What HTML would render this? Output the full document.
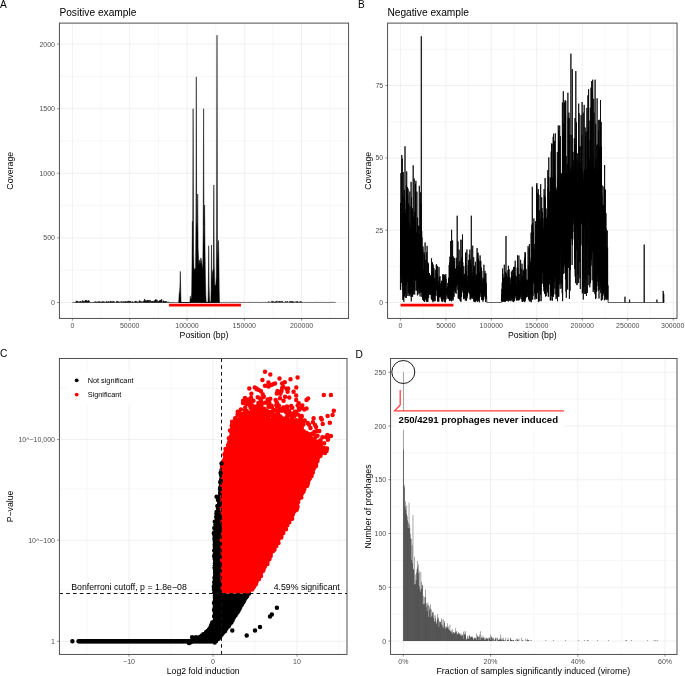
<!DOCTYPE html>
<html><head><meta charset="utf-8"><title>Figure</title>
<style>html,body{margin:0;padding:0;background:#fff}svg{display:block}</style></head>
<body>
<svg width="685" height="676" viewBox="0 0 685 676" font-family="'Liberation Sans', Arial, Helvetica, sans-serif" fill="#000">
<rect width="685" height="676" fill="#fff"/>
<g stroke="#ebebeb" fill="none">
<path stroke-width="0.4" d="M101.1 23.1V318.4M158.4 23.1V318.4M215.7 23.1V318.4M273 23.1V318.4M330.2 23.1V318.4M59.4 270.2H348.6M59.4 205.6H348.6M59.4 141H348.6M59.4 76.4H348.6"/>
<path stroke-width="0.75" d="M72.4 23.1V318.4M129.7 23.1V318.4M187 23.1V318.4M244.3 23.1V318.4M301.6 23.1V318.4M59.4 302.5H348.6M59.4 237.9H348.6M59.4 173.3H348.6M59.4 108.7H348.6M59.4 44.1H348.6"/>
</g>
<path d="M178.7 302.5L178.7 302.5L179.2 293.5L179.6 291.5L179.9 287L180.3 271.4L180.7 289.6L181 301.2L181.4 302.5L189.9 302.5L190.3 296.3L190.8 299.9L191.3 298.6L191.7 292.2L192 263.7L192.4 221.1L192.7 250.8L193.1 108.7L193.5 248.2L193.9 267.6L194.4 269.6L195 268.9L195.6 267.6L195.9 225L196.3 76.8L196.7 222.4L197.2 230.1L197.7 194L198.1 248.2L198.6 259.9L199 265L199.6 259.9L200.2 263.7L200.8 257.9L201.3 259.9L201.9 263.7L202.4 270.2L202.8 263.7L203.2 230.1L203.6 108.7L204 225L204.6 205L205 248.2L205.4 276.7L205.8 294.7L206.2 301.9L207 302.5L208 302.1L208.3 289.6L208.7 245.7L209.1 287L209.5 299.9L209.9 302.2L210.8 302.5L211.1 289.6L211.5 245L211.9 283.1L212.4 272.8L212.9 270.2L213.4 268.9L213.8 184.9L214.2 263.7L214.7 284.4L215.2 285.7L215.8 284.4L216.3 276.7L216.6 237.9L217 35.1L217.4 237.9L217.8 259.9L218.2 250.8L218.5 240.5L218.9 263.7L219.2 289.6L219.5 302.5Z" fill="#000" stroke="#000" stroke-width="0.5" stroke-linejoin="miter" stroke-miterlimit="30"/>
<path d="M72.4 302.5L72.7 302.5L72.9 302.5L73.2 302.4L73.4 302.5L73.7 302.4L73.9 302.5L74.2 302.2L74.4 302.5L74.7 302.3L74.9 302.5L75.2 302.1L75.4 302.5L75.7 302.5L75.9 302.5L76.2 301.3L76.4 302.5L76.7 300.8L76.9 302.5L77.2 301.2L77.4 302.5L77.7 301.1L77.9 302.5L78.2 302.2L78.4 302.5L78.7 301.9L78.9 302.5L79.2 301.6L79.4 302.5L79.7 302.4L79.9 302.5L80.2 301.2L80.4 302.5L80.7 301.5L80.9 302.5L81.2 301.3L81.4 302.5L81.7 302.3L81.9 302.5L82.2 302L82.4 302.5L82.7 300.3L82.9 302.5L83.2 301.2L83.4 302.5L83.7 301.6L83.9 302.5L84.2 301.3L84.4 302.5L84.7 302.4L84.9 302.5L85.2 300.4L85.4 302.5L85.7 300.2L85.9 302.5L86.2 301.9L86.4 302.5L86.7 300.1L86.9 302.5L87.2 300.9L87.4 302.5L87.7 301.4L87.9 302.5L88.2 301.3L88.4 302.5L88.7 300.1L88.9 302.5L89.2 301L89.4 302.5L89.7 302.3L89.9 302.5L90.2 302.5L90.4 302.5L90.7 302L90.9 302.5L91.2 302.3L91.4 302.5L91.7 302.4L91.9 302.5L92.2 302.2L92.4 302.5L92.7 302.1L92.9 302.5L93.2 302L93.4 302.5L93.7 302.2L93.9 302.5L94.2 302.2L94.4 302.5L94.7 301.7L94.9 302.5L95.2 302.3L95.4 302.5L95.7 301.4L95.9 302.5L96.2 302L96.4 302.5L96.7 302.1L96.9 302.5L97.2 301.7L97.4 302.5L97.7 301.8L97.9 302.5L98.2 302.2L98.4 302.5L98.7 301.7L98.9 302.5L99.2 301.3L99.4 302.5L99.7 301.9L99.9 302.5L100.2 302L100.4 302.5L100.7 301.7L100.9 302.5L101.2 302L101.4 302.5L101.7 301.9L101.9 302.5L102.2 301.5L102.4 302.5L102.7 301.7L102.9 302.5L103.2 301.6L103.4 302.5L103.7 301.8L103.9 302.5L104.2 302L104.4 302.5L104.7 301.7L104.9 302.5L105.2 302.2L105.4 302.5L105.7 302.1L105.9 302.5L106.2 301.6L106.4 302.5L106.7 301.3L106.9 302.5L107.2 302L107.4 302.5L107.7 301.9L107.9 302.5L108.2 301.5L108.4 302.5L108.7 301.6L108.9 302.5L109.2 301.7L109.4 302.5L109.7 302.2L109.9 302.5L110.2 301.7L110.4 302.5L110.7 300.9L110.9 302.5L111.2 301.6L111.4 302.5L111.7 302.1L111.9 302.5L112.2 301.2L112.4 302.5L112.7 301.9L112.9 302.5L113.2 302.1L113.4 302.5L113.7 301L113.9 302.5L114.2 301.6L114.4 302.5L114.7 302.5L114.9 302.5L115.2 302.3L115.4 302.5L115.7 302.3L115.9 302.5L116.2 302.1L116.4 302.5L116.7 300.9L116.9 302.5L117.2 302.1L117.4 302.5L117.7 301.3L117.9 302.5L118.2 301.7L118.4 302.5L118.7 301.7L118.9 302.5L119.2 301.8L119.4 302.5L119.7 302.5L119.9 302.5L120.2 302.2L120.4 302.5L120.7 302.3L120.9 302.5L121.2 301L121.4 302.5L121.7 301.8L121.9 302.5L122.2 302.3L122.4 302.5L122.7 301.6L122.9 302.5L123.2 302.1L123.4 302.5L123.7 301.5L123.9 302.5L124.2 301.7L124.4 302.5L124.7 302L124.9 302.5L125.2 301.2L125.4 302.5L125.7 301.8L125.9 302.5L126.2 301.4L126.4 302.5L126.7 302L126.9 302.5L127.2 301.7L127.4 302.5L127.7 301.5L127.9 302.5L128.2 300.8L128.4 302.5L128.7 301.7L128.9 302.5L129.2 301L129.4 302.5L129.7 301.7L129.9 302.5L130.2 301.7L130.4 302.5L130.7 301.2L130.9 302.5L131.2 302.2L131.4 302.5L131.7 302.4L131.9 302.5L132.2 301.6L132.4 302.5L132.7 301.7L132.9 302.5L133.2 301.9L133.4 302.5L133.7 302.2L133.9 302.5L134.2 302.1L134.4 302.5L134.7 301.7L134.9 302.5L135.2 301.6L135.4 302.5L135.7 300.9L135.9 302.5L136.2 301.1L136.4 302.5L136.7 302.1L136.9 302.5L137.2 301.8L137.4 302.5L137.7 301.9L137.9 302.5L138.2 302.2L138.4 302.5L138.7 301.7L138.9 302.5L139.2 301.6L139.4 302.5L139.7 300.4L139.9 302.5L140.2 301.2L140.4 302.5L140.7 302.3L140.9 302.5L141.2 301.2L141.4 302.5L141.7 302L141.9 302.5L142.2 302.1L142.4 302.5L142.7 301.5L142.9 302.5L143.2 302.3L143.4 302.5L143.7 300.8L143.9 302.5L144.2 301.1L144.4 302.5L144.7 298.9L144.9 302.5L145.2 300.6L145.4 302.5L145.7 300.4L145.9 302.5L146.2 301.9L146.4 302.5L146.7 300.5L146.9 302.5L147.2 301.1L147.4 302.5L147.7 299.9L147.9 302.5L148.2 300.1L148.4 302.5L148.7 301.5L148.9 302.5L149.2 300.2L149.4 302.5L149.7 301.7L149.9 302.5L150.2 300L150.4 302.5L150.7 302.1L150.9 302.5L151.2 301.3L151.4 302.5L151.7 301.4L151.9 302.5L152.2 301.6L152.4 302.5L152.7 301.1L152.9 302.5L153.2 301.5L153.4 302.5L153.7 301.9L153.9 302.5L154.2 300.4L154.4 302.5L154.7 301.4L154.9 302.5L155.2 300.2L155.4 302.5L155.7 299.4L155.9 302.5L156.2 299.6L156.4 302.5L156.7 301.9L156.9 302.5L157.2 299.9L157.4 302.5L157.7 301.8L157.9 302.5L158.2 301.3L158.4 302.5L158.7 301.5L158.9 302.5L159.2 301L159.4 302.5L159.7 300.4L159.9 302.5L160.2 300.4L160.4 302.5L160.7 299.9L160.9 302.5L161.2 301.6L161.4 302.5L161.7 299.1L161.9 302.5L162.2 302.1L162.4 302.5L162.7 301.9L162.9 302.5L163.2 300.7L163.4 302.5L163.7 300.9L163.9 302.5L164.2 301.6L164.4 302.5L164.7 301.6L164.9 302.5L165.2 301.1L165.4 302.5L165.7 301.6L165.9 302.5L166.2 301.5L166.4 302.5L166.7 301.6L166.9 302.5L167.2 301.9L167.4 302.5L167.7 302.2L167.9 302.5L168.2 302.3L168.4 302.5L168.7 301.8L168.9 302.5L169.2 302.3L169.4 302.5L169.7 302.4L169.9 302.5L170.2 302.2L170.4 302.5L170.7 302.5L170.9 302.5L171.2 302.3L171.4 302.5L171.7 302.1L171.9 302.5L172.2 302.2L172.4 302.5L172.7 302.2L172.9 302.5L173.2 302.2L173.4 302.5L173.7 302.4L173.9 302.5L174.2 302.4L174.4 302.5L174.7 302.4L174.9 302.5L175.2 302.2L175.4 302.5L175.7 302.3L175.9 302.5L176.2 302.5L176.4 302.5L176.7 302.2L176.9 302.5L177.2 302.4L177.4 302.5L177.7 302.3L177.9 302.5L178.2 302.4L178.7 302.5L219.5 302.5L219.6 302.4L219.8 302.4L220.1 302.5L220.3 302.4L220.6 302.5L220.8 302.4L221.1 302.5L221.3 302.5L221.6 302.4L221.8 302.4L222.1 302.5L222.3 302.3L222.6 302.4L222.8 302.4L223.1 302.3L223.3 302.5L223.6 302.4L223.8 302.3L224.1 302.4L224.3 302.4L224.6 302.4L224.8 302.5L225.1 302.4L225.3 302.4L225.6 302.4L225.8 302.4L226.1 302.4L226.3 302.4L226.6 302.3L226.8 302.3L227.1 302.3L227.3 302.5L227.6 302.5L227.8 302.5L228.1 302.5L228.3 302.5L228.6 302.3L228.8 302.4L229.1 302.3L229.3 302.4L229.6 302.3L229.8 302.4L230.1 302.4L230.3 302.4L230.6 302.3L230.8 302.5L231.1 302.3L231.3 302.1L231.6 302.4L231.8 302.4L232.1 302.4L232.3 302.4L232.6 302.5L232.8 302.3L233.1 302.4L233.3 302.3L233.6 302.4L233.8 302.4L234.1 302.4L234.3 302.3L234.6 302.4L234.8 302.5L235.1 302.5L235.3 302.5L235.6 302.4L235.8 302.5L236.1 302.5L236.3 302.3L236.6 302.3L236.8 302.5L237.1 302.4L237.3 302.5L237.6 302.4L237.8 302.4L238.1 302.5L238.3 302.4L238.6 302.4L238.8 302.5L239.1 302.5L239.3 302.5L239.6 302.4L239.8 302.4L240.1 302.5L240.3 302.4L240.6 302.5L240.8 302.5L241.1 302.3L241.3 302.5L241.6 302.3L241.8 302.4L242.1 302.5L242.3 302.2L242.6 302.5L242.8 302.5L243.1 302.5L243.3 302.4L243.6 302.5L243.8 302.4L244.1 302.5L244.3 302.4L244.6 302.5L244.8 302.3L245.1 302.5L245.3 302.5L245.6 302.5L245.8 302.4L246.1 302.4L246.3 302.3L246.6 302.4L246.8 302.5L247.1 302.5L247.3 302.5L247.6 302.4L247.8 302.5L248.1 302.4L248.3 302.4L248.6 302.5L248.8 302.3L249.1 302.4L249.3 302.3L249.6 302.4L249.8 302.5L250.1 302.3L250.3 302.4L250.6 302.5L250.8 302.2L251.1 302.5L251.3 302.3L251.6 302.3L251.8 302.4L252.1 302.3L252.3 302.5L252.6 302.5L252.8 302.3L253.1 302.3L253.3 302.5L253.6 302.5L253.8 302.3L254.1 302.4L254.3 302.4L254.6 302.4L254.8 302.5L255.1 302.4L255.3 302.4L255.6 302.5L255.8 302.4L256.1 302.4L256.4 302.4L256.6 302.4L256.9 302.5L257.1 302.5L257.4 302.4L257.6 302.3L257.9 302.4L258.1 302.5L258.4 302.5L258.6 302.3L258.9 302.5L259.1 302.4L259.4 302.4L259.6 302.2L259.9 302.5L260.1 302.4L260.4 302.5L260.6 302.4L260.9 302.5L261.1 302.4L261.4 302.1L261.6 302.5L261.9 302.4L262.1 302.4L262.4 302.3L262.6 302.4L262.9 302.5L263.1 302.5L263.4 302.4L263.6 302.4L263.9 302.5L264.1 302.4L264.4 302.2L264.6 302.5L264.9 302.5L265.1 302.5L265.4 302.3L265.6 302.5L265.9 302.3L266.1 302.4L266.4 302.5L266.6 302.5L266.9 302.4L267.1 302.4L267.4 302.3L267.6 302.4L267.9 302.5L268.1 302.4L268.4 301.6L268.6 302.4L268.9 302.1L269.1 302.4L269.4 301.8L269.6 302.4L269.9 302.3L270.1 302.4L270.4 302.2L270.6 302.4L270.9 302.3L271.1 302.4L271.4 302.1L271.6 302.3L271.9 300.9L272.1 302.5L272.4 301.5L272.6 302.5L272.9 302.3L273.1 302.4L273.4 301.3L273.6 302.3L273.9 301.9L274.1 302.5L274.4 302.1L274.6 302.5L274.9 301.9L275.1 302.5L275.4 301.6L275.6 302.5L275.9 302.2L276.1 302.5L276.4 301.4L276.6 302.4L276.9 300.8L277.1 302.4L277.4 302L277.6 302.2L277.9 302.2L278.1 302.3L278.4 302L278.6 302.4L278.9 301.1L279.1 302.4L279.4 301.1L279.6 302.4L279.9 302.2L280.1 302.4L280.4 301.4L280.6 302.5L280.9 302.2L281.1 302.4L281.4 301L281.6 302.3L281.9 301.7L282.1 302.2L282.4 301.3L282.6 302.4L282.9 302L283.1 302.5L283.4 302L283.6 302.3L283.9 302.4L284.1 302.5L284.4 302.1L284.6 302.4L284.9 302.3L285.1 302.3L285.4 301.4L285.6 302.4L285.9 301.5L286.1 302.5L286.4 302.3L286.6 302.5L286.9 302.4L287.1 302.4L287.4 301L287.6 302.5L287.9 302.1L288.1 302.4L288.4 302.2L288.6 302.4L288.9 302.4L289.1 302.3L289.4 302.4L289.6 302.4L289.9 301L290.1 302.4L290.4 302L290.6 302.4L290.9 301.3L291.1 302.4L291.4 302L291.6 302.4L291.9 301L292.1 302.5L292.4 301.9L292.6 302.5L292.9 301.4L293.1 302.5L293.4 301.8L293.6 302.4L293.9 302.1L294.1 302.4L294.4 301.8L294.6 302.5L294.9 302.4L295.1 302.4L295.4 301.7L295.6 302.4L295.9 302.2L296.1 302.3L296.4 302.3L296.6 302.5L296.9 301.3L297.1 302.5L297.4 301.2L297.6 302.5L297.9 302L298.1 302.5L298.4 302.1L298.6 302.4L298.9 301.9L299.1 302.2L299.4 302.1L299.6 302.4L299.9 301.7L300.1 302.4L300.4 301.9L300.6 302.4L300.9 301.1L301.1 302.3L301.4 302.4L301.6 302.5L301.9 302L302.1 302.4L302.4 302.4L302.6 302.5L302.9 302.4L303.1 302.4L303.4 302.4L303.6 302.3L303.9 302.4L304.1 302.3L304.4 302.5L304.6 302.4L304.9 302.4L305.1 302.4L305.4 302.4L305.6 302.5L305.9 302.2L306.1 302.4L306.4 302.4L306.6 302.5L306.9 302.5L307.1 302.3L307.4 302.4L307.6 302.3L307.9 302.5L308.1 302.5L308.4 302.5L308.6 302.3L308.9 302.5L309.1 302.4L309.4 302.4L309.6 302.4L309.9 302.2L310.1 302.4L310.4 302.5L310.6 302.5L310.9 302.3L311.1 302.4L311.4 302.5L311.6 302.4L311.9 302.4L312.1 302.4L312.4 302.5L312.6 302.5L312.9 302.5L313.1 302.5L313.4 302.4L313.6 302.5L313.9 302.4L314.1 302.4L314.4 302.5L314.6 302.4L314.9 302.4L315.1 302.5L315.4 302.4L315.6 302.4L315.9 302.2L316.1 302.2L316.4 302.5L316.6 302.4L316.9 302.5L317.1 302.5L317.4 302.3L317.6 302.3L317.9 302.4L318.1 302.5L318.4 302.3L318.6 302.5L318.9 302.4L319.1 302.5L319.4 302.4L319.6 302.5L319.9 302.4L320.1 302.4L320.4 302.2L320.6 302.4L320.9 302.4L321.1 302.5L321.4 302.5L321.6 302.4L321.9 302.4L322.1 302.4L322.4 302.5L322.6 302.3L322.9 302.3L323.1 302.3L323.4 302.4L323.6 302.4L323.9 302.3L324.1 302.5L324.4 302.3L324.6 302.5L324.9 302.4L325.1 302.3L325.4 302.4L325.6 302.4L325.9 302.4L326.1 302.4L326.4 302.5L326.6 302.5L326.9 302.4L327.1 302.4L327.4 302.5L327.6 302.5L327.9 302.4L328.1 302.4L328.4 302.4L328.6 302.5L328.9 302.4L329.1 302.3L329.4 302.4L329.6 302.2L329.9 302.4L330.1 302.4L330.4 302.5L330.6 302.3L330.9 302.3L331.1 302.2L331.4 302.4L331.6 302.4L331.9 302.4L332.1 302.4L332.4 302.5L332.6 302.4L332.9 302.4L333.1 302.5L333.4 302.4L333.6 302.2L333.9 302.4L334.1 302.4L334.4 302.4L334.6 302.5L334.9 302.4L335.1 302.5L335.4 302.4L335.6 302.4" fill="none" stroke="#000" stroke-width="0.65" stroke-linejoin="miter" stroke-miterlimit="20"/>
<path d="M168.9 305.2H241" stroke="#f00" stroke-width="2.7" fill="none"/>
<rect x="59.4" y="23.1" width="289.2" height="295.3" fill="none" stroke="#3d3d3d" stroke-width="0.9"/>
<path stroke="#3d3d3d" stroke-width="0.55" fill="none" d="M72.4 318.4v2.3M129.7 318.4v2.3M187 318.4v2.3M244.3 318.4v2.3M301.6 318.4v2.3M59.4 302.5h-2.3M59.4 237.9h-2.3M59.4 173.3h-2.3M59.4 108.7h-2.3M59.4 44.1h-2.3"/>
<g font-size="7" fill="#4d4d4d" text-anchor="middle">
<text x="72.4" y="328.3">0</text>
<text x="129.7" y="328.3">50000</text>
<text x="187" y="328.3">100000</text>
<text x="244.3" y="328.3">150000</text>
<text x="301.6" y="328.3">200000</text>
</g>
<g font-size="7" fill="#4d4d4d" text-anchor="end">
<text x="55" y="305">0</text>
<text x="55" y="240.4">500</text>
<text x="55" y="175.8">1000</text>
<text x="55" y="111.2">1500</text>
<text x="55" y="46.6">2000</text>
</g>
<text x="204" y="338.4" font-size="8.7" text-anchor="middle" >Position (bp)</text>
<text transform="translate(13.3 170.8) rotate(-90)" font-size="8.7" text-anchor="middle">Coverage</text>
<text x="59.4" y="15.8" font-size="10.2" text-anchor="start" >Positive example</text>
<text x="0" y="7.5" font-size="10.2" text-anchor="start" >A</text>
<g stroke="#ebebeb" fill="none">
<path stroke-width="0.4" d="M423.1 23.1V318.4M468.6 23.1V318.4M514.1 23.1V318.4M559.5 23.1V318.4M605 23.1V318.4M650.5 23.1V318.4M387.6 266.3H677M387.6 194H677M387.6 121.7H677M387.6 49.4H677"/>
<path stroke-width="0.75" d="M400.4 23.1V318.4M445.9 23.1V318.4M491.3 23.1V318.4M536.8 23.1V318.4M582.3 23.1V318.4M627.8 23.1V318.4M673.2 23.1V318.4M387.6 302.5H677M387.6 230.2H677M387.6 157.9H677M387.6 85.5H677"/>
</g>
<path d="M400.4 289.6L400.6 203L400.7 289.8L400.9 173.1L401.1 275.6L401.3 214.9L401.4 283L401.6 175.5L401.8 155L401.9 195.2L402.1 277.9L402.3 158.7L402.4 286.2L402.6 194.8L402.8 299.9L403 213L403.1 291.1L403.3 172L403.5 298.5L403.6 214.8L403.8 301.9L404 197.7L404.1 294.3L404.3 189.8L404.5 296.5L404.7 200.1L404.8 284.6L405 146.3L405.2 293.4L405.3 213.5L405.5 282L405.7 219.5L405.8 297.8L406 209.2L406.2 297.9L406.4 185.2L406.5 285L406.7 171.4L406.9 282.2L407 200.7L407.2 295.9L407.4 187L407.5 281.5L407.7 195.1L407.9 281.2L408.1 188.8L408.2 292.8L408.4 203.2L408.6 290L408.7 222.2L408.9 296.1L409.1 227.5L409.2 293.7L409.4 222.6L409.6 295.5L409.8 191.5L409.9 289L410.1 206L410.3 279.3L410.4 227.6L410.6 294L410.8 229.6L410.9 296.7L411.1 181.9L411.3 301.4L411.5 197.4L411.6 284L411.8 212.4L412 285.3L412.1 213.9L412.3 295.5L412.5 208.4L412.6 296.9L412.8 216.1L413 293.9L413.2 165.3L413.3 294.5L413.5 218.3L413.7 279.6L413.8 220L414 280L414.2 178.5L414.3 290.4L414.5 211.8L414.7 294.6L414.9 223.6L415 290.5L415.2 220.5L415.4 280.9L415.5 183.8L415.7 275.2L415.9 180.8L416 273L416.2 232.3L416.4 279.9L416.6 233L416.7 290.7L416.9 191.6L417.1 289.6L417.2 234.7L417.4 295.4L417.6 217.7L417.7 292.4L417.9 238L418.1 288.7L418.3 234.5L418.4 287.8L418.6 225.7L418.8 294.3L418.9 226.3L419.1 290.8L419.3 185.8L419.4 287.5L419.6 235.4L419.8 293L420 234L420.1 296.5L420.3 235.8L420.5 292.2L420.6 192.4L420.8 278.9L421 203.5L421.1 282.9L421.3 36.3L421.5 292.5L421.7 231.1L421.8 296.9L422 237.4L422.2 289.2L422.3 254.5L422.5 299.6L422.7 249.3L422.8 292.6L423 246.4L423.2 292.1L423.4 272.3L423.5 301.1L423.7 269.7L423.9 300.1L424 252L424.2 287.8L424.4 254.5L424.5 302L424.7 271L424.9 292.2L425.1 242.5L425.2 296.1L425.4 270.7L425.6 299.6L425.7 259.8L425.9 291.7L426.1 272.6L426.2 301.3L426.4 281.5L426.6 301.6L426.8 252.2L426.9 296.3L427.1 245.9L427.3 302L427.4 273.3L427.6 293.6L427.8 262.4L427.9 301.7L428.1 273L428.3 296L428.5 263.5L428.6 298.1L428.8 281L429 288.6L429.1 274.1L429.3 290.6L429.5 273L429.6 294.7L429.8 281.8L430 293.6L430.2 282.1L430.3 294.4L430.5 275.3L430.7 295L430.8 276.1L431 291L431.2 283.4L431.3 299L431.5 258.3L431.7 296.8L431.9 274.1L432 300L432.2 272.1L432.4 301.1L432.5 262.3L432.7 296L432.9 281.1L433 302.2L433.2 264.6L433.4 301.1L433.6 272.5L433.7 296.1L433.9 268L434.1 296.2L434.2 277.8L434.4 296.6L434.6 278.6L434.7 301.4L434.9 278.2L435.1 301L435.3 269.9L435.4 294.1L435.6 286.3L435.8 295.5L435.9 281.5L436.1 291L436.3 264.6L436.4 285L436.6 264.3L436.8 290.3L437 273.1L437.1 296.2L437.3 280.9L437.5 300.1L437.6 266.1L437.8 301.6L438 286L438.1 301.4L438.3 281.1L438.5 298.8L438.7 287.6L438.8 301.7L439 267.2L439.2 296.9L439.3 277.2L439.5 297.3L439.7 287.5L439.8 293.1L440 276.2L440.2 294L440.4 288.4L440.5 296.1L440.7 283.7L440.9 297.4L441 288.7L441.2 298.8L441.4 280.7L441.5 301.2L441.7 282L441.9 301.3L442.1 283L442.2 299.7L442.4 281L442.6 301.9L442.7 274.3L442.9 300.4L443.1 283.7L443.2 298.9L443.4 277L443.6 297.8L443.8 274.2L443.9 299.1L444.1 275.6L444.3 301.9L444.4 275.1L444.6 301.6L444.8 285.1L444.9 302.1L445.1 281.9L445.3 302.3L445.5 276.1L445.6 298L445.8 274L446 299.4L446.1 278.8L446.3 293.3L446.5 290.7L446.6 295.2L446.8 288.2L447 294.1L447.2 289.6L447.3 295.6L447.5 286.7L447.7 296.8L447.8 282.9L448 298.6L448.2 288.3L448.3 299L448.5 277.8L448.7 298.6L448.9 286.6L449 294.5L449.2 264.9L449.4 300.9L449.5 262.3L449.7 298.2L449.9 256.7L450 301L450.2 267.5L450.4 299.9L450.6 241L450.7 299.1L450.9 274.9L451.1 298.5L451.2 270.5L451.4 301.3L451.6 229.8L451.7 299.3L451.9 256.8L452.1 298.5L452.3 276.8L452.4 291.3L452.6 240.4L452.8 300.8L452.9 268.3L453.1 299.6L453.3 278.3L453.4 295.3L453.6 256.6L453.8 291.7L454 260.8L454.1 296.9L454.3 276.9L454.5 290.8L454.6 258.2L454.8 291.4L455 268.3L455.1 285.3L455.3 279.3L455.5 292.8L455.7 269.7L455.8 282.8L456 269L456.2 293.6L456.3 257.8L456.5 287.1L456.7 266L456.8 283.4L457 263.3L457.2 215.7L457.4 267.1L457.5 284.5L457.7 268.3L457.9 289.8L458 241.4L458.2 298.4L458.4 276L458.5 297.3L458.7 265L458.9 298.6L459.1 249.6L459.2 298.8L459.4 261.1L459.6 298.6L459.7 261.7L459.9 299.6L460.1 271.4L460.2 300.7L460.4 267.5L460.6 301.1L460.8 239.7L460.9 301.9L461.1 267.1L461.3 297.1L461.4 261.6L461.6 296.6L461.8 257.2L461.9 291.4L462.1 239.9L462.3 282.9L462.5 234.5L462.6 289.9L462.8 262.4L463 292.7L463.1 274.5L463.3 289.8L463.5 281.7L463.6 299.1L463.8 266L464 297.4L464.2 278.3L464.3 294.7L464.5 273.9L464.7 298.8L464.8 282L465 296.9L465.2 281.4L465.3 300.6L465.5 253L465.7 296.3L465.9 252.4L466 297.2L466.2 278.2L466.4 301L466.5 271.2L466.7 299.4L466.9 249.5L467 297.9L467.2 275.6L467.4 296L467.6 283.3L467.7 293.3L467.9 282.9L468.1 289.8L468.2 265.2L468.4 292.4L468.6 260.1L468.7 289.1L468.9 278.3L469.1 289.7L469.3 254.4L469.4 293.6L469.6 275.3L469.8 294L469.9 249.5L470.1 299.6L470.3 280.4L470.4 296.7L470.6 259.5L470.8 299.3L471 263.7L471.1 298.2L471.3 215.7L471.5 297.3L471.6 276.9L471.8 298.2L472 272.1L472.1 293.9L472.3 276.3L472.5 297.3L472.7 245.7L472.8 298.9L473 275.7L473.2 296.6L473.3 281.5L473.5 296.9L473.7 257.2L473.8 301.5L474 268.4L474.2 300.8L474.4 265.8L474.5 301.8L474.7 277.3L474.9 302L475 280.7L475.2 302.2L475.4 261.8L475.5 299.1L475.7 279.7L475.9 299.8L476.1 274.1L476.2 301.1L476.4 276.7L476.6 297.8L476.7 275.3L476.9 299.9L477.1 248L477.2 301.2L477.4 253L477.6 301.9L477.8 257L477.9 299.9L478.1 252.8L478.3 299.1L478.4 259.4L478.6 299.1L478.8 276.3L478.9 301.2L479.1 278.7L479.3 302.3L479.5 272.7L479.6 297.7L479.8 260.9L480 296.8L480.1 255.4L480.3 293.6L480.5 279.8L480.6 289.2L480.8 260.9L481 292.5L481.2 281L481.3 296.4L481.5 267.7L481.7 299.6L481.8 270.8L482 299.9L482.2 281.8L482.3 299.3L482.5 284.4L482.7 300.1L482.9 277.7L483 301.7L483.2 279.8L483.4 299.8L483.5 279.1L483.7 299.3L483.9 264.7L484 294.1L484.2 288.4L484.4 292.2L484.6 278.8L484.7 295.8L484.9 270.8L485.1 297.1L485.2 274.5L485.4 297.5L485.6 279.6L485.7 302L485.9 273.2L486.1 298.6L486.3 283.2L486.4 297.7L486.6 296.2L486.8 301.9L486.9 302.5L487.1 302.5L487.3 302.5L487.4 302.5L487.6 302.5L487.8 302.5L488 302.5L488.1 302.5L488.3 302.5L488.5 302.5L488.6 302.5L488.8 302.5L489 302.5L489.1 302.5L489.3 302.5L489.5 302.5L489.7 302.5L489.8 302.5L490 302.5L490.2 302.5L490.3 302.5L490.5 302.5L490.7 302.5L490.8 302.5L491 302.5L491.2 302.5L491.4 302.5L491.5 302.5L491.7 302.5L491.9 302.5L492 302.5L492.2 302.5L492.4 302.5L492.5 302.5L492.7 302.5L492.9 302.5L493.1 302.5L493.2 302.5L493.4 302.5L493.6 302.5L493.7 302.5L493.9 302.5L494.1 302.5L494.2 302.5L494.4 302.5L494.6 302.5L494.8 302.5L494.9 302.5L495.1 302.5L495.3 302.5L495.4 302.5L495.6 302.5L495.8 302.5L495.9 302.5L496.1 302.5L496.3 302.5L496.5 302.5L496.6 302.5L496.8 302.5L497 302.5L497.1 302.5L497.3 302.5L497.5 302.5L497.6 302.5L497.8 302.5L498 302.5L498.2 302.5L498.3 302.5L498.5 302.5L498.7 302.5L498.8 302.5L499 302.5L499.2 302.5L499.3 302.5L499.5 302.5L499.7 302.5L499.9 302.5L500 302.5L500.2 302.5L500.4 302.5L500.5 302.5L500.7 302.5L500.9 302.5L501 302.5L501.2 302.5L501.4 301.4L501.6 293.8L501.7 301L501.9 288.9L502.1 301.4L502.2 282.6L502.4 302L502.6 268.5L502.7 301.5L502.9 273.9L503.1 301.9L503.3 280.2L503.4 300.1L503.6 277.6L503.8 300.8L503.9 279.2L504.1 301L504.3 264.7L504.4 301.9L504.6 277.3L504.8 300.3L505 287.2L505.1 298.8L505.3 278.8L505.5 301.9L505.6 271.8L505.8 299.6L506 236L506.1 299L506.3 288.3L506.5 301L506.7 273.3L506.8 299L507 276.2L507.2 300.6L507.3 282.6L507.5 300.7L507.7 278.4L507.8 298.9L508 270.1L508.2 299.5L508.4 265.7L508.5 301.6L508.7 269.7L508.9 300.1L509 269.2L509.2 300.4L509.4 277.2L509.5 298.1L509.7 286.5L509.9 300.8L510.1 277.7L510.2 298.3L510.4 284.2L510.6 298.6L510.7 285.6L510.9 301.2L511.1 279.8L511.2 299.7L511.4 271.5L511.6 298.4L511.8 286L511.9 299.3L512.1 275.6L512.3 301.2L512.4 269.8L512.6 298.5L512.8 277.5L512.9 298.4L513.1 285.1L513.3 302.1L513.5 267.1L513.6 301.7L513.8 272.9L514 300.9L514.1 284.3L514.3 299.4L514.5 266.8L514.6 301.1L514.8 281.6L515 296.5L515.2 260.7L515.3 294.5L515.5 275.4L515.7 295.9L515.8 277.4L516 297.7L516.2 276.2L516.3 299L516.5 284.5L516.7 299.9L516.9 285.6L517 300.9L517.2 267.6L517.4 299.9L517.5 255.3L517.7 298.2L517.9 267.8L518 298.1L518.2 274L518.4 298.7L518.6 279.4L518.7 300.5L518.9 255.5L519.1 300.1L519.2 274.2L519.4 298.9L519.6 280.5L519.7 297.7L519.9 286.4L520.1 298.9L520.3 283.9L520.4 296.7L520.6 259.8L520.8 295.1L520.9 281L521.1 293.3L521.3 268.5L521.4 294.1L521.6 278.7L521.8 299.3L522 263.7L522.1 301.7L522.3 286.1L522.5 301.8L522.6 276.6L522.8 297.5L523 269.6L523.1 300.2L523.3 275.9L523.5 299.3L523.7 270.8L523.8 301.3L524 283.9L524.2 301.8L524.3 260.7L524.5 299.6L524.7 257.8L524.8 302.1L525 252L525.2 300.7L525.4 252.9L525.5 299.1L525.7 270.2L525.9 297.2L526 268.9L526.2 297.5L526.4 283.6L526.5 296.2L526.7 279.3L526.9 296.8L527.1 283.7L527.2 293.3L527.4 280L527.6 291.1L527.7 282.4L527.9 296.6L528.1 246.1L528.2 297.2L528.4 265.1L528.6 299.4L528.8 275L528.9 299.1L529.1 248.4L529.3 301.3L529.4 244L529.6 293.1L529.8 257.4L529.9 300.4L530.1 269.3L530.3 301.6L530.5 261.7L530.6 294.2L530.8 266.3L531 294.8L531.1 232.7L531.3 302.2L531.5 256.7L531.6 294.5L531.8 224.8L532 299.5L532.2 207.8L532.3 186.8L532.5 238.5L532.7 299.5L532.8 223L533 296L533.2 246.4L533.3 283.6L533.5 231.7L533.7 281.5L533.9 218.4L534 281.1L534.2 248.9L534.4 283.3L534.5 252.2L534.7 293.9L534.9 244L535 299.6L535.2 253.3L535.4 293.6L535.6 221.2L535.7 297.4L535.9 236.1L536.1 298.4L536.2 224.4L536.4 291.7L536.6 184.7L536.7 299L536.9 183.1L537.1 282.7L537.3 225.1L537.4 290.3L537.6 192.9L537.8 292.8L537.9 227.4L538.1 293.4L538.3 189.1L538.4 301.5L538.6 219.8L538.8 301.9L539 194.9L539.1 289L539.3 233.3L539.5 289.6L539.6 210.3L539.8 301.1L540 221.7L540.1 290.6L540.3 229.3L540.5 294.9L540.7 184.2L540.8 291.5L541 218.3L541.2 301.1L541.3 228L541.5 284.8L541.7 197.3L541.8 282.5L542 208.1L542.2 283.7L542.4 212.4L542.5 273.2L542.7 222.7L542.9 273.3L543 218.2L543.2 269.6L543.4 228.2L543.5 287L543.7 230L543.9 291.3L544.1 189.1L544.2 284.7L544.4 195.5L544.6 293.8L544.7 223.1L544.9 293.7L545.1 178.1L545.2 293L545.4 197.1L545.6 296.7L545.8 219.5L545.9 289.3L546.1 208.5L546.3 295.9L546.4 218.7L546.6 285.4L546.8 217.6L546.9 288.5L547.1 219.6L547.3 283.2L547.5 214.4L547.6 292.4L547.8 170.1L548 285.4L548.1 187.9L548.3 296.9L548.5 176.1L548.6 295.7L548.8 157.4L549 278.5L549.2 191.5L549.3 280.9L549.5 199.7L549.7 284.5L549.8 215.9L550 273.7L550.2 177.5L550.3 300.5L550.5 212.5L550.7 289.7L550.9 177.5L551 300.3L551.2 151.5L551.4 296.1L551.5 143.5L551.7 282L551.9 192.9L552 295.3L552.2 205.5L552.4 300.9L552.6 177.4L552.7 280.2L552.9 143.7L553.1 295.1L553.2 136.8L553.4 296.9L553.6 133.7L553.7 272.2L553.9 196.2L554.1 274.7L554.3 159.6L554.4 281.9L554.6 140.9L554.8 288.6L554.9 174.7L555.1 294.4L555.3 133.3L555.4 270.9L555.6 189.9L555.8 277.3L556 187.5L556.1 299.1L556.3 191.4L556.5 286L556.6 189.9L556.8 297.5L557 196L557.1 295L557.3 152.1L557.5 301.3L557.7 178L557.8 283.7L558 192.8L558.2 295.8L558.3 125.4L558.5 261.1L558.7 130.6L558.8 296.9L559 141.4L559.2 284.6L559.4 188.6L559.5 280.1L559.7 125.6L559.9 255.4L560 184.1L560.2 288.8L560.4 136.2L560.5 246.1L560.7 179.3L560.9 284.4L561.1 172.9L561.2 263.2L561.4 174L561.6 283.1L561.7 183.7L561.9 288.5L562.1 184.6L562.2 293.4L562.4 102.5L562.6 301.2L562.8 132.7L562.9 268L563.1 162L563.3 91.3L563.4 168.8L563.6 273.9L563.8 123.3L563.9 266.5L564.1 147.1L564.3 242.7L564.5 102.5L564.6 264.5L564.8 134.6L565 273.2L565.1 100.1L565.3 254.1L565.5 114L565.6 279.4L565.8 100.9L566 291.6L566.2 156.1L566.3 297.8L566.5 172.7L566.7 263.5L566.8 171L567 288.1L567.2 164L567.3 254.7L567.5 163.8L567.7 289.6L567.9 92.7L568 266.9L568.2 117.6L568.4 239.5L568.5 165.5L568.7 268L568.9 112.6L569 260.7L569.2 118.1L569.4 299L569.6 167.3L569.7 256L569.9 134.7L570.1 290.7L570.2 170.4L570.4 270.2L570.6 171.1L570.7 241.1L570.9 53.7L571.1 223.7L571.3 168.2L571.4 238.5L571.6 165.8L571.8 212.9L571.9 135L572.1 265L572.3 69.1L572.4 244.9L572.6 151.9L572.8 239.4L573 151.9L573.1 225L573.3 160L573.5 208.4L573.6 170.1L573.8 219.1L574 166.1L574.1 232L574.3 138.2L574.5 258.3L574.7 167.6L574.8 269.1L575 118L575.2 276.6L575.3 144.1L575.5 283.1L575.7 159.6L575.8 71.1L576 140.2L576.2 250.1L576.4 122.4L576.5 228.1L576.7 167.6L576.9 285.1L577 159.4L577.2 284.5L577.4 182.1L577.5 230.2L577.7 153.3L577.9 274.3L578.1 183.9L578.2 238.8L578.4 162.6L578.6 283L578.7 103.6L578.9 230.5L579.1 113.1L579.2 230.2L579.4 161.9L579.6 262.1L579.8 146.2L579.9 278.3L580.1 146.5L580.3 289L580.4 176.2L580.6 243.3L580.8 163.2L580.9 245.4L581.1 115.1L581.3 224.3L581.5 138.8L581.6 219.4L581.8 135.3L582 210.3L582.1 102L582.3 293.4L582.5 170.9L582.6 273.1L582.8 173L583 291.3L583.2 112.7L583.3 299.5L583.5 178.8L583.7 229.3L583.8 179.2L584 286.6L584.2 104.9L584.3 228.7L584.5 169.2L584.7 293.8L584.9 177.6L585 223.2L585.2 127.5L585.4 294L585.5 136.2L585.7 271.2L585.9 131.9L586 279L586.2 175.1L586.4 295.9L586.6 170.4L586.7 217.1L586.9 107.9L587.1 245L587.2 131.1L587.4 293L587.6 170.6L587.7 221.4L587.9 95.4L588.1 275.1L588.3 127.5L588.4 219.9L588.6 89.2L588.8 285.1L588.9 140.1L589.1 275.2L589.3 157.7L589.4 266.8L589.6 168.6L589.8 287.3L590 120.6L590.1 243.8L590.3 107.7L590.5 283.2L590.6 167.2L590.8 254.8L591 87.7L591.1 265.7L591.3 166.6L591.5 260.2L591.7 81.1L591.8 239.9L592 91L592.2 280.3L592.3 162L592.5 248.1L592.7 79.7L592.8 252.5L593 154.4L593.2 292L593.4 167.1L593.5 256L593.7 98.8L593.9 290L594 112.5L594.2 289.2L594.4 167.6L594.5 279.8L594.7 181.6L594.9 293.5L595.1 79.7L595.2 294.2L595.4 157.7L595.6 299L595.7 123.9L595.9 298.2L596.1 158.8L596.2 281.2L596.4 172.4L596.6 291.6L596.8 145.1L596.9 285.9L597.1 98.3L597.3 275.1L597.4 170.7L597.6 273.3L597.8 144.1L597.9 281.9L598.1 169.7L598.3 290.7L598.5 130.9L598.6 279.2L598.8 120.1L599 298.5L599.1 120.3L599.3 289.7L599.5 146.3L599.6 280.4L599.8 172.4L600 278.9L600.2 119.3L600.3 284.2L600.5 100L600.7 293.1L600.8 183.8L601 287.4L601.2 122L601.3 300.6L601.5 146.5L601.7 290.4L601.9 195.7L602 284.7L602.2 185.4L602.4 299.7L602.5 206.3L602.7 289.6L602.9 204.6L603 295.5L603.2 212.5L603.4 293.4L603.6 205L603.7 289L603.9 186.6L604.1 290.8L604.2 210.4L604.4 300.3L604.6 165L604.7 288.4L604.9 190.2L605.1 289.9L605.3 189.5L605.4 296.4L605.6 212.8L605.8 299.2L605.9 213.3L606.1 300L606.3 228.8L606.4 297.2L606.6 251.3L606.8 298.4L607 254L607.1 297.3L607.3 230.6L607.5 298.5L607.6 247.4L607.8 299.8L608 285.5L608.1 302.3L608.3 302.5L608.5 302.5L608.7 302.5L608.8 302.5L609 302.5L609.2 302.5L609.3 302.5L609.5 302.5L609.7 302.5L609.8 302.5L610 302.5L610.2 302.5L610.4 302.5L610.5 302.5L610.7 302.5L610.9 302.5L611 302.5L611.2 302.5L611.4 302.5L611.5 302.5L611.7 302.5L611.9 302.5L612.1 302.5L612.2 302.5L612.4 302.5L612.6 302.5L612.7 302.5L612.9 302.5L613.1 302.5L613.2 302.5L613.4 302.5L613.6 302.5L613.8 302.5L613.9 302.5L614.1 302.5L614.3 302.5L614.4 302.5L614.6 302.5L614.8 302.5L614.9 302.5L615.1 302.5L615.3 302.5L615.5 302.5L615.6 302.5L615.8 302.5L616 302.5L616.1 302.5L616.3 302.5L616.5 302.5L616.6 302.5L616.8 302.5L617 302.5L617.2 302.5L617.3 302.5L617.5 302.5L617.7 302.5L617.8 302.5L618 302.5L618.2 302.5L618.3 302.5L618.5 302.5L618.7 302.5L618.9 302.5L619 302.5L619.2 302.5L619.4 302.5L619.5 302.5L619.7 302.5L619.9 302.5L620 302.5L620.2 302.5L620.4 302.5L620.6 302.5L620.7 302.5L620.9 302.5L621.1 302.5L621.2 302.5L621.4 302.5L621.6 302.5L621.7 302.5L621.9 302.5L622.1 302.5L622.3 302.5L622.4 302.5L622.6 302.5L622.8 302.5L622.9 302.5L623.1 302.5L623.3 302.5L623.4 302.5L623.6 302.5L623.8 302.5L624 302.5L624.1 302.5L624.3 302.5L624.5 302.5L624.6 302.5L624.8 302.5L625 296.7L625.1 302.5L625.3 302.5L625.5 302.5L625.7 302.5L625.8 302.5L626 302.5L626.2 302.5L626.3 302.5L626.5 302.5L626.7 302.5L626.8 302.5L627 302.5L627.2 302.5L627.4 302.5L627.5 302.5L627.7 302.5L627.9 302.5L628 302.5L628.2 302.5L628.4 302.5L628.5 302.5L628.7 302.5L628.9 302.5L629.1 302.5L629.2 302.5L629.4 302.5L629.6 299.6L629.7 302.5L629.9 302.5L630.1 302.5L630.2 302.5L630.4 302.5L630.6 302.5L630.8 302.5L630.9 302.5L631.1 302.5L631.3 302.5L631.4 302.5L631.6 302.5L631.8 302.5L631.9 302.5L632.1 302.5L632.3 302.5L632.5 302.5L632.6 302.5L632.8 302.5L633 302.5L633.1 302.5L633.3 302.5L633.5 302.5L633.6 302.5L633.8 302.5L634 302.5L634.2 302.5L634.3 302.5L634.5 302.5L634.7 302.5L634.8 302.5L635 302.5L635.2 302.5L635.3 302.5L635.5 302.5L635.7 302.5L635.9 302.5L636 302.5L636.2 302.5L636.4 302.5L636.5 302.5L636.7 302.5L636.9 302.5L637 302.5L637.2 302.5L637.4 302.5L637.6 302.5L637.7 302.5L637.9 302.5L638.1 302.5L638.2 302.5L638.4 302.5L638.6 302.5L638.7 302.5L638.9 302.5L639.1 302.5L639.3 302.5L639.4 302.5L639.6 302.5L639.8 302.5L639.9 302.5L640.1 302.5L640.3 302.5L640.4 302.5L640.6 302.5L640.8 302.5L641 302.5L641.1 302.5L641.3 302.5L641.5 302.5L641.6 302.5L641.8 302.5L642 302.5L642.1 302.5L642.3 302.5L642.5 302.5L642.7 302.5L642.8 302.5L643 302.5L643.2 302.5L643.3 302.5L643.5 302.5L643.7 302.5L643.8 302.5L644 302.5L644.2 244.6L644.4 302.5L644.5 302.5L644.7 302.5L644.9 302.5L645 302.5L645.2 302.5L645.4 302.5L645.5 302.5L645.7 302.5L645.9 302.5L646.1 302.5L646.2 302.5L646.4 302.5L646.6 302.5L646.7 302.5L646.9 302.5L647.1 302.5L647.2 302.5L647.4 302.5L647.6 302.5L647.8 302.5L647.9 302.5L648.1 302.5L648.3 302.5L648.4 302.5L648.6 302.5L648.8 302.5L648.9 302.5L649.1 302.5L649.3 302.5L649.5 302.5L649.6 302.5L649.8 302.5L650 302.5L650.1 302.5L650.3 302.5L650.5 302.5L650.6 302.5L650.8 302.5L651 302.5L651.2 302.5L651.3 302.5L651.5 302.5L651.7 302.5L651.8 302.5L652 302.5L652.2 302.5L652.3 302.5L652.5 302.5L652.7 302.5L652.9 302.5L653 302.5L653.2 302.5L653.4 302.5L653.5 302.5L653.7 302.5L653.9 302.5L654 302.5L654.2 302.5L654.4 302.5L654.6 302.5L654.7 302.5L654.9 302.5L655.1 302.5L655.2 302.5L655.4 302.5L655.6 302.5L655.7 302.5L655.9 302.5L656.1 302.5L656.3 302.5L656.4 302.5L656.6 302.5L656.8 302.5L656.9 299.6L657.1 302.5L657.3 302.5L657.4 302.5L657.6 302.5L657.8 302.5L658 302.5L658.1 302.5L658.3 302.5L658.5 302.5L658.6 302.5L658.8 302.5L659 302.5L659.1 302.5L659.3 302.5L659.5 302.5L659.7 302.5L659.8 302.5L660 302.5L660.2 302.5L660.3 302.5L660.5 302.5L660.7 302.5L660.8 302.5L661 302.5L661.2 302.5L661.4 302.5L661.5 302.5L661.7 302.5L661.9 302.5L662 302.5L662.2 302.5L662.4 302.5L662.5 302.5L662.7 302.5L662.9 302.5L663.1 302.5L663.2 290.9L663.4 302.5L663.6 302.5L663.7 293.8L663.9 302.5L664.1 302.5" fill="none" stroke="#000" stroke-width="0.8" stroke-linejoin="miter" stroke-miterlimit="20"/>
<path d="M400.6 305.2H453.4" stroke="#f00" stroke-width="2.7" fill="none"/>
<rect x="387.6" y="23.1" width="289.4" height="295.3" fill="none" stroke="#3d3d3d" stroke-width="0.9"/>
<path stroke="#3d3d3d" stroke-width="0.55" fill="none" d="M400.4 318.4v2.3M445.9 318.4v2.3M491.3 318.4v2.3M536.8 318.4v2.3M582.3 318.4v2.3M627.8 318.4v2.3M673.2 318.4v2.3M387.6 302.5h-2.3M387.6 230.2h-2.3M387.6 157.9h-2.3M387.6 85.5h-2.3"/>
<g font-size="7" fill="#4d4d4d" text-anchor="middle">
<text x="400.4" y="328.3">0</text>
<text x="445.9" y="328.3">50000</text>
<text x="491.3" y="328.3">100000</text>
<text x="536.8" y="328.3">150000</text>
<text x="582.3" y="328.3">200000</text>
<text x="627.8" y="328.3">250000</text>
<text x="672.7" y="328.3">300000</text>
</g>
<g font-size="7" fill="#4d4d4d" text-anchor="end">
<text x="383.2" y="305">0</text>
<text x="383.2" y="232.7">25</text>
<text x="383.2" y="160.4">50</text>
<text x="383.2" y="88">75</text>
</g>
<text x="532.3" y="338.4" font-size="8.7" text-anchor="middle" >Position (bp)</text>
<text transform="translate(370.5 170.8) rotate(-90)" font-size="8.7" text-anchor="middle">Coverage</text>
<text x="387.4" y="15.8" font-size="10.2" text-anchor="start" >Negative example</text>
<text x="357.9" y="7.5" font-size="10.2" text-anchor="start" >B</text>
<clipPath id="cc"><rect x="59.4" y="358.5" width="287.6" height="295.9"/></clipPath>
<g stroke="#ebebeb" fill="none">
<path stroke-width="0.4" d="M87 358.5V654.4M171 358.5V654.4M255 358.5V654.4M339 358.5V654.4M59.4 589.9H347M59.4 488.9H347M59.4 388.3H347"/>
<path stroke-width="0.75" d="M129 358.5V654.4M213 358.5V654.4M297 358.5V654.4M59.4 641.3H347M59.4 540.2H347M59.4 439.6H347"/>
</g>
<g clip-path="url(#cc)">
<path d="M78.5 639.3L192 639.4L195 638.3L200 635.3L206 631L211 625L213.2 618L213.2 560L214.2 525L217 505L219 488L220.3 470L221.5 464L223 470L223 593.5L250 593.5L247.4 598L241.2 609L233.7 621L224.8 633.5L216 643.3L78.5 643.3 Z" fill="#000"/>
<path d="M72.4 641.3h0M78.5 641.3h0M79.5 641.3h0M80.5 641.3h0M81.5 641.3h0M82.5 641.3h0M83.5 641.3h0M84.5 641.3h0M85.5 641.3h0M86.5 641.3h0M87.5 641.3h0M88.5 641.3h0M89.5 641.3h0M90.5 641.3h0M91.5 641.3h0M92.5 641.3h0M93.5 641.3h0M94.5 641.3h0M95.5 641.3h0M96.5 641.3h0M97.5 641.3h0M98.5 641.3h0M99.5 641.3h0M100.5 641.3h0M101.5 641.3h0M102.5 641.3h0M103.5 641.3h0M104.5 641.3h0M105.5 641.3h0M106.5 641.3h0M107.5 641.3h0M108.5 641.3h0M109.5 641.3h0M110.5 641.3h0M111.5 641.3h0M112.5 641.3h0M113.5 641.3h0M114.5 641.3h0M115.5 641.3h0M116.5 641.3h0M117.5 641.3h0M118.5 641.3h0M119.5 641.3h0M120.5 641.3h0M121.5 641.3h0M122.5 641.3h0M123.5 641.3h0M124.5 641.3h0M125.5 641.3h0M126.5 641.3h0M127.5 641.3h0M128.5 641.3h0M129.5 641.3h0M130.5 641.3h0M131.5 641.3h0M132.5 641.3h0M133.5 641.3h0M134.5 641.3h0M135.5 641.3h0M136.5 641.3h0M137.5 641.3h0M138.5 641.3h0M139.5 641.3h0M140.5 641.3h0M141.5 641.3h0M142.5 641.3h0M143.5 641.3h0M144.5 641.3h0M145.5 641.3h0M146.5 641.3h0M147.5 641.3h0M148.5 641.3h0M149.5 641.3h0M150.5 641.3h0M151.5 641.3h0M152.5 641.3h0M153.5 641.3h0M154.5 641.3h0M155.5 641.3h0M156.5 641.3h0M157.5 641.3h0M158.5 641.3h0M159.5 641.3h0M160.5 641.3h0M161.5 641.3h0M162.5 641.3h0M163.5 641.3h0M164.5 641.3h0M165.5 641.3h0M166.5 641.3h0M167.5 641.3h0M168.5 641.3h0M169.5 641.3h0M170.5 641.3h0M171.5 641.3h0M172.5 641.3h0M173.5 641.3h0M174.5 641.3h0M175.5 641.3h0M176.5 641.3h0M177.5 641.3h0M178.5 641.3h0M179.5 641.3h0M180.5 641.3h0M181.5 641.3h0M182.5 641.3h0M183.5 641.3h0M184.5 641.3h0M185.5 641.3h0M186.5 641.3h0M187.5 641.3h0M188.5 641.3h0M189.5 641.3h0M190.5 641.3h0M191.5 641.3h0M192.5 641.3h0M193.5 641.3h0M194.5 641.3h0M195.5 641.3h0M196.5 641.3h0M197.5 641.3h0M198.5 641.3h0M199.5 641.3h0M200.5 641.3h0M201.5 641.3h0M202.5 641.3h0M203.5 641.3h0M204.5 641.3h0M205.5 641.3h0M206.5 641.3h0M207.5 641.3h0M208.5 641.3h0M209.5 641.3h0M210.5 641.3h0M211.5 641.3h0M212.5 641.3h0M213.5 641.3h0M214.5 641.3h0M215.5 641.3h0M221.4 470.3h0M222.8 471.6h0M223.1 474.1h0M221.2 475.3h0M222.1 476.6h0M222.2 477.6h0M221.2 479.2h0M220.9 481.2h0M220.3 482.3h0M221.4 484.4h0M221.1 485.1h0M220.3 487.3h0M220.6 488.9h0M220.9 490.8h0M220.2 492.4h0M220.4 493.8h0M220.5 495.8h0M219.7 497.2h0M219.7 499.3h0M219.8 500.6h0M219.6 502.1h0M219.6 503.6h0M217.4 505.9h0M218.5 506.2h0M218 508h0M219.1 510.2h0M216.6 511.9h0M217.1 514.2h0M216.4 513.7h0M216.8 516.2h0M216.2 516.9h0M216.5 520.4h0M214.8 521.8h0M215.3 524h0M215.7 524.3h0M215.4 526.3h0M214.3 528h0M214.4 528.3h0M215.9 530.6h0M214.3 532.6h0M213.8 533.3h0M214.4 535.3h0M214.7 537.8h0M214.4 539h0M215.1 539.9h0M214.8 541.5h0M215.3 543.8h0M214.7 544.5h0M214.8 546.4h0M215.1 548.3h0M214.2 550.5h0M215.1 551.3h0M215.4 553.1h0M214.5 554.9h0M214.2 556.2h0M214.6 558.8h0M215.6 559.5h0M215.7 561.2h0M214.9 563.2h0M214.9 565.6h0M214.8 565.4h0M215.5 567.4h0M214.5 567.7h0M215.3 571.2h0M215.2 572.9h0M215.7 574h0M215.3 575.2h0M214.5 577.7h0M214.9 578.1h0M214.9 580.3h0M214.2 582.2h0M214.5 582.8h0M214 586.1h0M213.8 586.9h0M215.1 588.7h0M214 589.8h0M214.8 592h0M214.3 592.6h0M215.3 595.4h0M214.9 596.1h0M214.9 598.1h0M215.2 599h0M214.8 601.1h0M214 602.9h0M214.7 604.2h0M214.9 605.3h0M214.7 607.8h0M214.9 609.7h0M214 610h0M214.8 612.6h0M216 614.3h0M214.2 616h0M214.2 616.5h0M216.3 619h0M215.1 620.7h0M215.8 622.1h0M215.4 623.1h0M190.8 641.4h0M206.6 631.7h0M201.5 635.8h0M199.2 638.3h0M204.7 633.9h0M195.4 640.5h0M204.6 634h0M209.7 628.7h0M212.3 622.5h0M210.4 627.6h0M205.8 633.6h0M191 641.7h0M203.3 634.3h0M207.7 631.1h0M211.3 625.1h0M200.1 637.8h0M198.7 638.6h0M198.9 637.7h0M195.5 639.6h0M199.2 637.3h0M208.7 630.4h0M191.1 641h0M188.9 643.1h0M190.6 642.2h0M196.1 639.2h0M194.7 640.7h0M189.2 642.9h0M202.4 635.2h0M193.8 641.1h0M203.9 634.3h0M196.8 639.1h0M210.7 627.1h0M209 629.5h0M202.3 635.6h0M205.1 633.7h0M206.2 632.1h0M196.5 639.9h0M198.3 638.8h0M211.3 625.3h0M191.2 642.1h0M192.1 637.3h0M195.9 637.3h0M214.8 642.5h0M216 641.2h0M216.4 640h0M218.6 638.7h0M219.5 637.5h0M220.3 636.2h0M221.3 635h0M222.2 633.7h0M223.4 632.4h0M224.9 631.2h0M225.5 629.9h0M226.1 628.7h0M227.2 627.4h0M228.7 626.2h0M229.1 624.9h0M229.9 623.7h0M231.4 622.4h0M232 621.1h0M232.7 619.9h0M233.3 618.6h0M233.8 617.4h0M234.7 616.1h0M235.7 614.9h0M236.5 613.6h0M237.5 612.3h0M238.3 611.1h0M239 609.8h0M239.8 608.6h0M240.2 607.3h0M240.5 606.1h0M241.8 604.8h0M242.3 603.6h0M243.2 602.3h0M244 601h0M244.4 599.8h0M245.2 598.5h0M246.2 597.3h0M247.2 596h0M247.8 594.8h0M249 593.5h0M232.3 630.5h0M246.7 635.5h0M255 630.5h0M260 627h0M270 616.6h0M271.8 614.6h0M276.9 607.8h0" fill="none" stroke="#000" stroke-width="4.5" stroke-linecap="round"/>
<path d="M223.3 593.5L223.3 463L224.4 457.8L228.8 446.7L233.3 434.5L238.8 426.5L244.4 421.5L251 419L257.7 418.5L266.6 419.5L277 421L288.8 423L299.8 429L306 435L311 441L316.5 447L322 453L313.8 471L304.9 491L297.4 506L249.9 593.5 Z" fill="#f00"/>
<path d="M223.1 590.1h0M223.3 591.1h0M222.8 589.2h0M224.4 588.2h0M222.6 587.3h0M223.4 584.2h0M223.1 583.5h0M223.3 581.6h0M224.3 579.9h0M222.5 579.8h0M223.9 578.7h0M222.4 577.4h0M223.7 576.6h0M222.3 574.1h0M223.1 571.3h0M222.7 572.2h0M222.9 569.4h0M224 569.5h0M224.1 566.8h0M223.3 566.9h0M222.8 564.2h0M224 564.7h0M222.4 560.1h0M222.1 560.1h0M223.2 560.1h0M223.2 557.7h0M223.4 556.2h0M223.3 555.1h0M225.4 555h0M222.6 552.2h0M222.9 550.4h0M222.7 549.8h0M224 548.8h0M222.7 546.8h0M222.4 546.5h0M223.1 546.1h0M222.8 544.8h0M223.5 542.6h0M221.7 540.3h0M223.9 541.1h0M223.5 539.3h0M223 537.1h0M222.8 536.9h0M223.6 534.6h0M223 533.9h0M223.6 531.5h0M224.7 531.1h0M223.3 530.7h0M224.1 528.2h0M223.7 526.1h0M222.8 523.8h0M224.3 522.8h0M223.8 522.4h0M222.5 521.6h0M223.5 520.9h0M224.7 519.4h0M224 517.3h0M223.9 516.6h0M222.9 515.1h0M223.3 514h0M223.6 512.2h0M222.7 511.9h0M221.9 509.5h0M224.5 506.5h0M222.7 507.9h0M222 508.1h0M221.2 505.9h0M224.5 504.2h0M223.1 502.4h0M222.6 501.5h0M222.4 499.3h0M224.1 497.3h0M223 497.1h0M222.2 496.6h0M223.6 493.1h0M223.3 492.4h0M222.8 491.8h0M222.7 491.2h0M222.7 489.9h0M223.3 488.5h0M222.9 486.1h0M222.4 485.6h0M224.1 485.6h0M224.3 482.8h0M223.1 481.6h0M223.3 481.1h0M224.1 478h0M222.7 478.4h0M223.5 475.9h0M224.2 474.4h0M223.1 473.1h0M221.7 472.8h0M222.3 470.4h0M222.7 470.1h0M223.2 468.2h0M222 466.8h0M222.1 465.9h0M223.6 464.3h0M224.9 463.4h0M224.1 461.8h0M223.7 461.2h0M225 458.1h0M225.2 458.2h0M225.7 456.9h0M224.4 454.4h0M227.3 454.3h0M225.2 453.1h0M226.6 450.2h0M225.5 449.1h0M228 449.1h0M228.1 448.2h0M229.3 445h0M229 444.8h0M228.7 443.8h0M230.1 442.8h0M229.4 441.4h0M232.7 439.8h0M230.2 439.6h0M232.4 438.5h0M231.5 437.7h0M232.2 434.8h0M232.8 434.4h0M234.7 433.9h0M234.9 433h0M235.7 431.8h0M235.3 428.7h0M237.8 427.7h0M237.8 427.6h0M238.4 426.1h0M241 423.5h0M241.7 426.3h0M242.2 423.5h0M243.9 424h0M243.4 421.6h0M245.6 421.4h0M247.2 421h0M248 420h0M249.1 419h0M250.9 418.9h0M251.4 420.2h0M253.6 417.7h0M255.9 418.1h0M256.8 418.6h0M257.9 418.6h0M258.7 418.7h0M262.3 417h0M262.2 419.3h0M262.8 418.1h0M266.8 419h0M268.3 419.9h0M268 420.1h0M269.7 420.8h0M270.8 420.2h0M271.9 421.3h0M273.8 419.6h0M273.9 420.9h0M275.2 420.5h0M276.2 420.8h0M278.7 422h0M279.6 423.1h0M280.9 424.2h0M283 422.3h0M283.2 419.9h0M284.7 422.5h0M287.7 421.5h0M289 422.6h0M289.4 421h0M290.1 423.4h0M291.8 424.4h0M291.6 425.8h0M294.2 426.1h0M295.7 427.2h0M296.1 425.9h0M296.2 428.7h0M299.1 428.4h0M299.5 429h0M300.9 429.7h0M301.3 432.7h0M303.1 431.5h0M302.9 432.4h0M305.5 434.6h0M305.8 435h0M306.6 435.1h0M308.7 437.3h0M310.5 437.4h0M309.2 439.7h0M310 438.9h0M309.1 440.5h0M311 441.3h0M312.3 443.1h0M312.8 443.4h0M313.3 444.8h0M315 445.4h0M315.6 446.2h0M315.2 446.7h0M317.7 448.7h0M319.2 449.4h0M319.6 451.3h0M320.6 451h0M320.7 452.5h0M319.6 453.9h0M320.4 454.5h0M320.5 455.8h0M318.5 457h0M317.6 458.7h0M317.5 460.8h0M317.4 461.2h0M316.3 461h0M315.8 462.6h0M316 464.4h0M316 466.1h0M314.8 467h0M313.8 468.5h0M313.8 468.7h0M312.9 472.2h0M312 471.5h0M311 471.9h0M311.8 474.2h0M310.6 476.7h0M311.6 476h0M310 478.3h0M309 479.5h0M308.1 481.5h0M308 481.9h0M307.9 483.5h0M306.8 484.4h0M307.2 485.8h0M305.3 486.1h0M304.6 487.2h0M304.3 489.3h0M302.3 490.4h0M303.5 491.8h0M301.8 493.8h0M301.3 493.3h0M300.4 495.4h0M301.3 497.5h0M300.1 497.1h0M298.9 498.5h0M298.6 499.2h0M298.2 502.1h0M297.3 503.2h0M296.2 503.1h0M296.9 506.9h0M297.6 506.8h0M297.1 508h0M296.7 509.8h0M294.5 511.2h0M293.7 511h0M292.5 513.1h0M293 514h0M292.1 516.4h0M291.4 515.8h0M292.1 518.7h0M290.8 517.3h0M289.4 520.3h0M289.3 522.2h0M287.6 522.7h0M287.5 524.3h0M287.3 525.2h0M286.3 524.4h0M285.3 526.2h0M284.7 528.8h0M286 529.2h0M283.4 530.1h0M283.1 532.5h0M283.3 532.9h0M282.1 532h0M281.2 533.9h0M281.4 536h0M279.9 536.8h0M281.2 537.5h0M278.5 539.2h0M278.1 540.2h0M278.5 543.1h0M276 542.8h0M276.8 543.9h0M276 544.9h0M276.3 545.9h0M274.8 547.4h0M274.4 548.5h0M274.4 549.7h0M273.2 550.9h0M271.6 551.4h0M270.9 553.4h0M270.6 553.5h0M270.7 555.9h0M268.5 558h0M269.3 557.7h0M269.5 559h0M267.5 561.9h0M266.5 561.2h0M267.5 561.6h0M266.1 563.9h0M267.4 564h0M264.9 566.4h0M264.3 566.1h0M264 568.3h0M263.4 570.2h0M263.2 570.8h0M262 570.7h0M261 573h0M260.2 574h0M259.2 576.3h0M261 575.9h0M259 577.2h0M259 578.9h0M257.5 579.5h0M256.9 580h0M256.7 581.4h0M256 583.2h0M255.8 584.3h0M255.1 584.7h0M254.1 586.4h0M253.2 587.8h0M253.1 587.3h0M252 588.9h0M252.1 589.6h0M284.8 382.3h0M250.7 403.6h0M246.8 418h0M289.3 397.4h0M255.5 414.6h0M239.6 424.4h0M308.6 434.2h0M282.4 410.5h0M234.8 430.7h0M253.2 417.3h0M261.1 408.8h0M267.9 418h0M319.2 446.1h0M268.7 405.5h0M268.6 402h0M317.2 444.6h0M296 422.5h0M246.9 418.2h0M324.3 450.8h0M259.5 410.3h0M318.6 445.4h0M252.3 405.4h0M240.9 416h0M288.9 415.3h0M236.9 423h0M225.8 452.7h0M267.6 399.5h0M258.9 410.4h0M310.2 436.6h0M259.9 412.3h0M253.4 400.7h0M232.3 436.3h0M269.7 412.4h0M316.2 443.6h0M269.7 414h0M315.1 442.3h0M315 425h0M252.5 416.8h0M310.5 427.9h0M248.2 418h0M291.1 413.4h0M320.8 445.7h0M296.3 387.4h0M299.4 421.4h0M300.8 418.1h0M251 416.2h0M326.5 450.9h0M236.8 423.8h0M266.4 414.3h0M232.9 433.7h0M310.9 440h0M257.4 412.7h0M283.2 387.1h0M268.6 406.7h0M266.4 418.5h0M308.1 398.4h0M320.4 449.6h0M244.9 416.7h0M292.2 421.9h0M285.1 396.7h0M312.9 422.3h0M265.9 413h0M254.3 416.8h0M286.2 407h0M296.2 420.3h0M287.2 417.6h0M320.9 442.9h0M277 417.8h0M300.3 416h0M235.6 424.8h0M314.8 442.5h0M291.2 406h0M232.1 421.7h0M256.4 416.2h0M237.5 414.7h0M237.8 420.6h0M287.2 412.5h0M297.1 427.3h0M261.4 404.9h0M291.7 416.2h0M271.9 414.7h0M273.7 416h0M268.6 414.7h0M255.4 406.9h0M279.9 409.2h0M301.7 415.9h0M295 422.4h0M327 448.4h0M312.4 439.9h0M295.7 411.7h0M320.5 449.7h0M278.9 419.8h0M232.2 428.1h0M236 429h0M261.2 403.7h0M271 413.3h0M280.4 416.6h0M235.1 431.6h0M294 415.6h0M233 432.4h0M272 419.9h0M255.8 409.3h0M257.7 397.2h0M257.6 414h0M276.9 406.2h0M223.8 460.5h0M268.7 415h0M300.1 427.1h0M263.1 416.2h0M273.3 409.8h0M232.3 423.8h0M275.9 410.2h0M300.4 425.3h0M302.1 421.1h0M276.1 418.5h0M287 406.6h0M309 424.7h0M240.6 418.9h0M291.2 423h0M251 399.1h0M290.1 420.3h0M302.3 405.5h0M241.7 421.9h0M290.7 414.4h0M258 413.7h0M300.3 417.8h0M327.4 434.9h0M261.5 407.4h0M301.8 428h0M298.7 403.3h0M323.8 449.5h0M227.2 448.3h0M286.9 416.9h0M232.2 436.9h0M287.3 408.5h0M307.7 422.9h0M320.4 441.6h0M277.9 413.4h0M246.7 411h0M262.4 417.8h0M242.9 421.8h0M284.1 418.7h0M259.4 417.5h0M240.3 417.8h0M243.3 421.7h0M301 421.6h0M297.6 405.6h0M278.9 405.7h0M270.3 398.8h0M261 401h0M250.3 412.6h0M261.2 414.3h0M317.1 442.2h0M263 412.4h0M314.7 438.8h0M297.1 421.7h0M266.3 414.1h0M290.4 420.8h0M263.8 396.5h0M231.2 431.9h0M294.3 425.9h0M284.2 419.6h0M296.2 395.4h0M295.7 424.8h0M231.3 438.3h0M253.4 417.2h0M245 398h0M271.6 405.8h0M278.2 410.5h0M301.8 416.4h0M287.9 421.7h0M274 420.4h0M290.1 423.4h0M282.9 419.6h0M318 446.8h0M296.2 399.9h0M253.5 407.4h0M259.6 417.8h0M251.8 418.8h0M297.7 427.7h0M244.9 418.6h0M312.3 434.2h0M274.9 418.2h0M312.7 433.4h0M280 420.6h0M280.4 393.8h0M286.3 409.1h0M321.6 452.3h0M230 430.4h0M225.7 454.6h0M287 417.4h0M285.3 411h0M251 405.7h0M262.3 414.3h0M267.8 419.6h0M270.6 415.3h0M262.7 417.2h0M260.2 398.5h0M319.2 441.3h0M234.2 433.1h0M321.1 449.6h0M234.8 424.2h0M301.4 425.3h0M278.5 417.5h0M258.3 416.8h0M293.5 414.3h0M232.4 433h0M262.1 418.5h0M289 410.4h0M253.7 407.8h0M323 449.1h0M325 450.1h0M294.7 415.6h0M253.8 414.8h0M322.4 437.2h0M232.6 430.4h0M246.7 415h0M286.6 388.8h0M303.7 431.2h0M264.4 408.7h0M324.2 443.3h0M243.9 421.3h0M250.5 415.8h0M261.2 412.7h0M279.7 410h0M286.2 412.6h0M239.9 419.5h0M245.2 407.4h0M249 401.8h0M288 414.5h0M326.2 448.6h0M259.2 407h0M277.1 410.9h0M240 424.5h0M304.7 420.6h0M318.1 447h0M249.7 405.2h0M263.1 418h0M252.5 413.9h0M315.6 436.5h0M306.5 400h0M256.2 406.6h0M284.2 420.5h0M237.7 419.5h0M238.3 413.7h0M284.9 420.9h0M320.5 440.2h0M272.2 416h0M275.2 415h0M287.9 415.1h0M290.5 379.3h0M292.2 419.2h0M239.5 425.6h0M315.3 445.7h0M251.4 393.7h0M278.5 416.5h0M246.7 417.1h0M240.8 418h0M255.3 409.4h0M299.4 427.4h0M296.8 426.7h0M283.6 400.8h0M326.7 449.8h0M256 412.4h0M279.5 378.4h0M272.7 420.2h0M300.7 422.1h0M320.9 448.1h0M255.8 416.8h0M256.6 411.8h0M252.7 417h0M288.1 388.5h0M235.1 418.2h0M230.6 441.6h0M264.6 410.4h0M320.2 450.8h0M294.8 412h0M269.3 402.8h0M250.4 413.3h0M228.9 438.2h0M226.2 453h0M303.4 424.6h0M279.8 420.3h0M240.9 409.5h0M236.7 422.1h0M306.5 432.7h0M281.6 410.8h0M278.6 415.3h0M228.1 445.4h0M310.7 440.1h0M283.6 408.9h0M267.9 417.4h0M292.3 407.8h0M322.7 424.1h0M252.9 417h0M230.9 436.2h0M299.5 428.1h0M274.5 417.9h0M325 453h0M258.6 412h0M243.1 400.7h0M276.3 405.2h0M230 441h0M288.5 422.1h0M228 445.3h0M256.7 389.3h0M321.8 419.4h0M259.5 409.3h0M251.7 411.6h0M245.9 420.6h0M249.5 417h0M297.7 421.5h0M228.2 447.4h0M245.3 399.7h0M247.6 417.8h0M242.5 414h0M319.3 431.1h0M281.5 418h0M230.8 441.1h0M316.5 435.9h0M299.2 409.7h0M316.1 445.8h0M276.7 402.2h0M311.1 440.3h0M263.2 412.7h0M288.4 422.6h0M283.3 407.5h0M304.4 432.8h0M271.9 407.3h0M266 412.8h0M231.6 436h0M254.8 387.4h0M316.4 436.2h0M266.3 419.2h0M292.5 420.4h0M320.1 450.1h0M278.3 414.4h0M271.8 420h0M263 397.2h0M322.3 452.7h0M327.9 439.8h0M246.4 404h0M275.6 400h0M264.8 410.9h0M237.4 425.3h0M254.4 414h0M316.7 431h0M277.9 417h0M282 420.3h0M256.2 415.6h0M262.7 394.3h0M253.3 417.7h0M266.5 414.1h0M298.7 425.2h0M257.2 410.8h0M237.2 421.4h0M264.4 412.6h0M248.1 413.5h0M297.8 414.6h0M281.5 391.1h0M241.1 420h0M243.4 420.1h0M277.4 404.1h0M294.5 415.9h0M301.4 408.1h0M316.1 427.1h0M278.8 420.5h0M319.4 448.3h0M268 414.7h0M246 414h0M248.4 417.9h0M280 398.3h0M267.7 400.2h0M267 411h0M235.5 429.3h0M236.6 424.4h0M275.1 416.1h0M249.5 405h0M258.4 402.9h0M317.5 435.8h0M248.2 412.9h0M232.6 433.7h0M287 420.9h0M269.9 412h0M232.4 435.7h0M309.7 439.4h0M332.6 415.1h0M258.4 407.7h0M229.7 438.3h0M324 447.9h0M251.1 400.5h0M313.9 439h0M237.2 426.9h0M268.4 382.5h0M231.5 437.4h0M262.4 380h0M240 413.8h0M314.3 432.1h0M316.9 445.2h0M253.6 417.8h0M251.3 417.8h0M310 439.1h0M244.3 414h0M308.3 437.3h0M312.7 439.2h0M308.8 437.8h0M298.9 409.1h0M282.1 387.9h0M237.5 426.4h0M261.8 414.5h0M250.6 407.8h0M272.5 412.9h0M252.8 406.5h0M276.3 415.4h0M260.3 418.4h0M231.9 437.9h0M236.9 423.7h0M231.7 425.8h0M312.1 433.7h0M299.8 423.6h0M274.7 417.6h0M255 418.6h0M244.9 410.2h0M326 436.9h0M258.1 412.1h0M287.8 419.4h0M247.7 403h0M265.1 402.8h0M267.1 419.4h0M320.4 443.6h0M265 371.8h0M270.3 374.6h0M297.6 377.5h0M323.8 395h0M330.9 395h0M333.8 410.8h0M327.6 416h0M329.8 422.8h0M328.7 436.8h0M330.9 436h0M320.9 417.9h0M313.6 418.3h0M306.5 408.6h0M304.3 409.5h0M293.6 391.7h0M287.6 391.7h0M282.1 383.5h0M249.3 388.4h0M237.7 411.7h0M245.5 402h0M243 403h0M256.6 388.6h0M258.5 389.8h0M261 391.2h0M265 385.8h0M268.5 386.5h0M271.2 385h0M273.5 384h0M275 383.6h0M282.2 383.4h0M277.5 391h0M276.8 393.5h0M246.8 401h0M248.5 399.6h0M251 397.8h0M237.9 412.2h0M235.2 421h0M239.7 421.2h0" fill="none" stroke="#f00" stroke-width="4.5" stroke-linecap="round"/>
<path d="M221.5 463.4h0M220.6 473h0M220 489h0M216.6 496.7h0M218 500h0M219.5 505h0M220.8 481h0" fill="none" stroke="#000" stroke-width="4.5" stroke-linecap="round"/>
<path d="M221.5 358.5V654.4" stroke="#111" stroke-width="1" stroke-dasharray="3.6 3.2" fill="none"/>
<path d="M59.4 593.5H347" stroke="#111" stroke-width="1" stroke-dasharray="3.6 3.2" fill="none"/>
</g>
<rect x="66.5" y="371.5" width="70" height="33" fill="#fff"/>
<circle cx="76.7" cy="380.3" r="1.9" fill="#000"/><circle cx="76.7" cy="394.6" r="1.9" fill="#f00"/>
<text x="87.7" y="382.9" font-size="7.3" text-anchor="start" >Not significant</text>
<text x="87.7" y="397.2" font-size="7.3" text-anchor="start" >Significant</text>
<text x="71.2" y="590.3" font-size="8.75" text-anchor="start" >Bonferroni cutoff, p = 1.8e−08</text>
<text x="339.8" y="590.3" font-size="8.75" text-anchor="end" >4.59% significant</text>
<rect x="59.4" y="358.5" width="287.6" height="295.9" fill="none" stroke="#3d3d3d" stroke-width="0.9"/>
<path stroke="#3d3d3d" stroke-width="0.55" fill="none" d="M129 654.4v2.3M213 654.4v2.3M297 654.4v2.3M59.4 641.3h-2.3M59.4 540.2h-2.3M59.4 439.6h-2.3"/>
<g font-size="7" fill="#4d4d4d" text-anchor="middle">
<text x="129" y="664.4">−10</text>
<text x="213" y="664.4">0</text>
<text x="297" y="664.4">10</text>
</g>
<g font-size="7" fill="#4d4d4d" text-anchor="end">
<text x="55" y="643.8">1</text>
<text x="55" y="542.7">10^−100</text>
<text x="55" y="442.1">10^−10,000</text>
</g>
<text x="203.2" y="674.3" font-size="8.7" text-anchor="middle" >Log2 fold induction</text>
<text transform="translate(13.3 506.5) rotate(-90)" font-size="8.7" text-anchor="middle">P−value</text>
<text x="0" y="357.4" font-size="10.2" text-anchor="start" >C</text>
<g stroke="#ebebeb" fill="none">
<path stroke-width="0.4" d="M446.9 358.5V654.4M534.2 358.5V654.4M621.4 358.5V654.4M390.6 614.1H677M390.6 560.4H677M390.6 506.6H677M390.6 452.8H677M390.6 399.1H677"/>
<path stroke-width="0.75" d="M403.3 358.5V654.4M490.6 358.5V654.4M577.8 358.5V654.4M665 358.5V654.4M390.6 641H677M390.6 587.2H677M390.6 533.5H677M390.6 479.7H677M390.6 426H677M390.6 372.2H677"/>
</g>
<path d="M403.08 641h0.44V372.2h-0.44zM403.52 641h0.44V449.6h-0.44zM403.96 641h0.44V485.1h-0.44zM404.40 641h0.44V487.2h-0.44zM404.84 641h0.44V506.6h-0.44zM405.28 641h0.44V501.2h-0.44zM405.72 641h0.44V509.8h-0.44zM406.16 641h0.44V514.1h-0.44zM406.60 641h0.44V505.5h-0.44zM407.04 641h0.44V520.6h-0.44zM407.48 641h0.44V516.3h-0.44zM407.92 641h0.44V528.1h-0.44zM408.36 641h0.44V522.7h-0.44zM408.80 641h0.44V502.7h-0.44zM409.24 641h0.44V524.6h-0.44zM409.68 641h0.44V528.2h-0.44zM410.12 641h0.44V538.4h-0.44zM410.56 641h0.44V534.1h-0.44zM411.00 641h0.44V559.9h-0.44zM411.44 641h0.44V539h-0.44zM411.88 641h0.44V545.2h-0.44zM412.32 641h0.44V563.3h-0.44zM412.76 641h0.44V515h-0.44zM413.20 641h0.44V568.9h-0.44zM413.64 641h0.44V569.7h-0.44zM414.08 641h0.44V556.8h-0.44zM414.52 641h0.44V584.7h-0.44zM414.96 641h0.44V574.6h-0.44zM415.40 641h0.44V583.9h-0.44zM415.84 641h0.44V580h-0.44zM416.28 641h0.44V572.6h-0.44zM416.72 641h0.44V569.2h-0.44zM417.16 641h0.44V561.2h-0.44zM417.60 641h0.44V567.2h-0.44zM418.04 641h0.44V564.4h-0.44zM418.48 641h0.44V573.6h-0.44zM418.92 641h0.44V586.2h-0.44zM419.36 641h0.44V571.2h-0.44zM419.80 641h0.44V589.3h-0.44zM420.24 641h0.44V591.7h-0.44zM420.68 641h0.44V571.9h-0.44zM421.12 641h0.44V581.7h-0.44zM421.56 641h0.44V588.6h-0.44zM422.00 641h0.44V585.1h-0.44zM422.44 641h0.44V585.4h-0.44zM422.88 641h0.44V604h-0.44zM423.32 641h0.44V596.3h-0.44zM423.76 641h0.44V604.8h-0.44zM424.20 641h0.44V597h-0.44zM424.64 641h0.44V603.5h-0.44zM425.08 641h0.44V589.4h-0.44zM425.52 641h0.44V597.4h-0.44zM425.96 641h0.44V607.1h-0.44zM426.40 641h0.44V603.2h-0.44zM426.84 641h0.44V610.9h-0.44zM427.28 641h0.44V604.7h-0.44zM427.72 641h0.44V602.5h-0.44zM428.16 641h0.44V605.2h-0.44zM428.60 641h0.44V616.9h-0.44zM429.04 641h0.44V610.2h-0.44zM429.48 641h0.44V606.4h-0.44zM429.92 641h0.44V608.4h-0.44zM430.36 641h0.44V604.2h-0.44zM430.80 641h0.44V617.3h-0.44zM431.24 641h0.44V609.5h-0.44zM431.68 641h0.44V615.9h-0.44zM432.12 641h0.44V612.7h-0.44zM432.56 641h0.44V612.3h-0.44zM433.00 641h0.44V611.7h-0.44zM433.44 641h0.44V617.9h-0.44zM433.88 641h0.44V615.3h-0.44zM434.32 641h0.44V621.1h-0.44zM434.76 641h0.44V622.3h-0.44zM435.20 641h0.44V615.5h-0.44zM435.64 641h0.44V618.6h-0.44zM436.08 641h0.44V624.2h-0.44zM436.52 641h0.44V622.3h-0.44zM436.96 641h0.44V619.8h-0.44zM437.40 641h0.44V614.1h-0.44zM437.84 641h0.44V616.9h-0.44zM438.28 641h0.44V618.4h-0.44zM438.72 641h0.44V626.8h-0.44zM439.16 641h0.44V622.5h-0.44zM439.60 641h0.44V621.1h-0.44zM440.04 641h0.44V621.8h-0.44zM440.48 641h0.44V622.1h-0.44zM440.92 641h0.44V624.5h-0.44zM441.36 641h0.44V618.3h-0.44zM441.80 641h0.44V619.9h-0.44zM442.24 641h0.44V625.2h-0.44zM442.68 641h0.44V627.7h-0.44zM443.12 641h0.44V619.2h-0.44zM443.56 641h0.44V627.3h-0.44zM444.00 641h0.44V622.9h-0.44zM444.44 641h0.44V621h-0.44zM444.88 641h0.44V629h-0.44zM445.32 641h0.44V626.5h-0.44zM445.76 641h0.44V628.2h-0.44zM446.20 641h0.44V626.5h-0.44zM446.64 641h0.44V627.3h-0.44zM447.08 641h0.44V623.3h-0.44zM447.52 641h0.44V627.2h-0.44zM447.96 641h0.44V628.8h-0.44zM448.40 641h0.44V626.5h-0.44zM448.84 641h0.44V629.8h-0.44zM449.28 641h0.44V630.2h-0.44zM449.72 641h0.44V624.6h-0.44zM450.16 641h0.44V631.4h-0.44zM450.60 641h0.44V631.1h-0.44zM451.04 641h0.44V630.3h-0.44zM451.48 641h0.44V632.3h-0.44zM451.92 641h0.44V633.9h-0.44zM452.36 641h0.44V629.1h-0.44zM452.80 641h0.44V632.5h-0.44zM453.24 641h0.44V632.3h-0.44zM453.68 641h0.44V632.2h-0.44zM454.12 641h0.44V633.2h-0.44zM454.56 641h0.44V633.5h-0.44zM455.00 641h0.44V631.9h-0.44zM455.44 641h0.44V627.9h-0.44zM455.88 641h0.44V631.3h-0.44zM456.32 641h0.44V631.5h-0.44zM456.76 641h0.44V634.6h-0.44zM457.20 641h0.44V633h-0.44zM457.64 641h0.44V634.5h-0.44zM458.08 641h0.44V632.1h-0.44zM458.52 641h0.44V633.7h-0.44zM458.96 641h0.44V633.5h-0.44zM459.40 641h0.44V633.8h-0.44zM459.84 641h0.44V634.5h-0.44zM460.28 641h0.44V635.5h-0.44zM460.72 641h0.44V633.3h-0.44zM461.16 641h0.44V635.6h-0.44zM461.60 641h0.44V635.5h-0.44zM462.04 641h0.44V634.7h-0.44zM462.48 641h0.44V635.3h-0.44zM462.92 641h0.44V638.8h-0.44zM463.36 641h0.44V632.4h-0.44zM463.80 641h0.44V631.3h-0.44zM464.24 641h0.44V634.5h-0.44zM464.68 641h0.44V634.5h-0.44zM465.12 641h0.44V631.3h-0.44zM465.56 641h0.44V634.5h-0.44zM466.00 641h0.44V639.9h-0.44zM466.44 641h0.44V638.8h-0.44zM466.88 641h0.44V638.8h-0.44zM467.32 641h0.44V636.7h-0.44zM467.76 641h0.44V635.6h-0.44zM468.20 641h0.44V638.8h-0.44zM468.64 641h0.44V638.8h-0.44zM469.08 641h0.44V635.6h-0.44zM469.52 641h0.44V635.6h-0.44zM469.96 641h0.44V636.7h-0.44zM470.40 641h0.44V637.8h-0.44zM470.84 641h0.44V636.7h-0.44zM471.28 641h0.44V636.7h-0.44zM471.72 641h0.44V636.7h-0.44zM472.16 641h0.44V637.8h-0.44zM472.60 641h0.44V636.7h-0.44zM473.04 641h0.44V639.9h-0.44zM473.48 641h0.44V638.8h-0.44zM473.92 641h0.44V638.8h-0.44zM474.36 641h0.44V637.8h-0.44zM474.80 641h0.44V637.8h-0.44zM475.24 641h0.44V637.8h-0.44zM475.68 641h0.44V638.8h-0.44zM476.12 641h0.44V639.9h-0.44zM476.56 641h0.44V633.5h-0.44zM477.00 641h0.44V636.7h-0.44zM477.44 641h0.44V635.6h-0.44zM477.88 641h0.44V636.7h-0.44zM478.32 641h0.44V636.7h-0.44zM478.76 641h0.44V639.9h-0.44zM479.20 641h0.44V636.7h-0.44zM479.64 641h0.44V634.5h-0.44zM480.08 641h0.44V631.3h-0.44zM480.52 641h0.44V639.9h-0.44zM480.96 641h0.44V637.8h-0.44zM481.40 641h0.44V637.8h-0.44zM481.84 641h0.44V635.6h-0.44zM482.28 641h0.44V637.8h-0.44zM482.72 641h0.44V638.8h-0.44zM483.16 641h0.44V636.7h-0.44zM483.60 641h0.44V637.8h-0.44zM484.04 641h0.44V639.9h-0.44zM484.48 641h0.44V637.8h-0.44zM484.92 641h0.44V638.8h-0.44zM485.36 641h0.44V639.9h-0.44zM485.80 641h0.44V637.8h-0.44zM486.24 641h0.44V638.8h-0.44zM486.68 641h0.44V637.8h-0.44zM487.12 641h0.44V638.8h-0.44zM487.56 641h0.44V638.8h-0.44zM488.00 641h0.44V637.8h-0.44zM488.88 641h0.44V638.8h-0.44zM489.32 641h0.44V637.8h-0.44zM489.76 641h0.44V637.8h-0.44zM490.20 641h0.44V634.5h-0.44zM490.64 641h0.44V639.9h-0.44zM491.08 641h0.44V636.7h-0.44zM491.52 641h0.44V636.7h-0.44zM491.96 641h0.44V637.8h-0.44zM492.40 641h0.44V638.8h-0.44zM493.28 641h0.44V637.8h-0.44zM493.72 641h0.44V638.8h-0.44zM494.16 641h0.44V639.9h-0.44zM495.04 641h0.44V638.8h-0.44zM495.48 641h0.44V637.8h-0.44zM495.92 641h0.44V637.8h-0.44zM497.24 641h0.44V637.8h-0.44zM497.68 641h0.44V638.8h-0.44zM498.12 641h0.44V639.9h-0.44zM498.56 641h0.44V639.9h-0.44zM499.00 641h0.44V638.8h-0.44zM499.44 641h0.44V639.9h-0.44zM499.88 641h0.44V638.8h-0.44zM500.32 641h0.44V634.5h-0.44zM500.76 641h0.44V639.9h-0.44zM501.20 641h0.44V639.9h-0.44zM501.64 641h0.44V637.8h-0.44zM502.08 641h0.44V638.8h-0.44zM502.96 641h0.44V639.9h-0.44zM503.40 641h0.44V637.8h-0.44zM503.84 641h0.44V639.9h-0.44zM504.72 641h0.44V639.9h-0.44zM505.60 641h0.44V637.8h-0.44zM506.92 641h0.44V639.9h-0.44zM507.36 641h0.44V639.9h-0.44zM507.80 641h0.44V637.8h-0.44zM508.24 641h0.44V639.9h-0.44zM510.00 641h0.44V638.8h-0.44zM510.44 641h0.44V637.8h-0.44zM510.88 641h0.44V639.9h-0.44zM511.32 641h0.44V639.9h-0.44zM511.76 641h0.44V639.9h-0.44zM512.64 641h0.44V639.9h-0.44zM513.08 641h0.44V639.9h-0.44zM513.52 641h0.44V639.9h-0.44zM515.28 641h0.44V639.9h-0.44zM516.60 641h0.44V638.8h-0.44zM517.04 641h0.44V638.8h-0.44zM517.48 641h0.44V639.9h-0.44zM517.92 641h0.44V639.9h-0.44zM518.80 641h0.44V638.8h-0.44zM521.44 641h0.44V637.8h-0.44zM522.32 641h0.44V639.9h-0.44zM522.76 641h0.44V639.9h-0.44zM525.40 641h0.44V638.8h-0.44zM526.72 641h0.44V639.9h-0.44zM527.16 641h0.44V638.8h-0.44zM527.60 641h0.44V639.9h-0.44zM528.04 641h0.44V639.9h-0.44zM528.48 641h0.44V639.9h-0.44zM529.80 641h0.44V639.9h-0.44zM531.12 641h0.44V639.9h-0.44zM545.64 641h0.44V639.9h-0.44zM553.12 641h0.44V639.9h-0.44zM565.00 641h0.44V639.9h-0.44zM578.64 641h0.44V639.9h-0.44zM584.36 641h0.44V639.9h-0.44zM587.00 641h0.44V639.9h-0.44zM587.88 641h0.44V639.9h-0.44zM597.12 641h0.44V639.9h-0.44zM608.56 641h0.44V639.9h-0.44zM625.72 641h0.44V639.9h-0.44zM626.16 641h0.44V639.9h-0.44zM631.00 641h0.44V639.9h-0.44zM647.28 641h0.44V639.9h-0.44zM653.88 641h0.44V639.9h-0.44zM655.64 641h0.44V639.9h-0.44zM656.96 641h0.44V639.9h-0.44z" fill="#5c5c5c" stroke="#5c5c5c" stroke-width="0.06"/>
<rect x="394.2" y="411.2" width="169.7" height="18.6" fill="#fff"/>
<path d="M563.9 410.8H394.6L400.2 405V390" stroke="#ff3b3b" stroke-width="1.25" fill="none"/>
<circle cx="403.3" cy="372" r="11.5" fill="none" stroke="#000" stroke-width="0.9"/>
<text x="398.6" y="422.7" font-size="9.6" text-anchor="start" font-weight="bold">250/4291 prophages never induced</text>
<rect x="390.6" y="358.5" width="286.4" height="295.9" fill="none" stroke="#3d3d3d" stroke-width="0.9"/>
<path stroke="#3d3d3d" stroke-width="0.55" fill="none" d="M403.3 654.4v2.3M490.6 654.4v2.3M577.8 654.4v2.3M665 654.4v2.3M390.6 641h-2.3M390.6 587.2h-2.3M390.6 533.5h-2.3M390.6 479.7h-2.3M390.6 426h-2.3M390.6 372.2h-2.3"/>
<g font-size="7" fill="#4d4d4d" text-anchor="middle">
<text x="403.3" y="664.4">0%</text>
<text x="490.6" y="664.4">20%</text>
<text x="577.8" y="664.4">40%</text>
<text x="665" y="664.4">60%</text>
</g>
<g font-size="7" fill="#4d4d4d" text-anchor="end">
<text x="386.2" y="643.5">0</text>
<text x="386.2" y="589.7">50</text>
<text x="386.2" y="536">100</text>
<text x="386.2" y="482.2">150</text>
<text x="386.2" y="428.5">200</text>
<text x="386.2" y="374.7">250</text>
</g>
<text x="533.3" y="673.9" font-size="8.85" text-anchor="middle" >Fraction of samples significantly induced (virome)</text>
<text transform="translate(370.5 506.5) rotate(-90)" font-size="8.7" text-anchor="middle">Number of prophages</text>
<text x="355.4" y="357.6" font-size="10.2" text-anchor="start" >D</text>
</svg>
</body></html>
